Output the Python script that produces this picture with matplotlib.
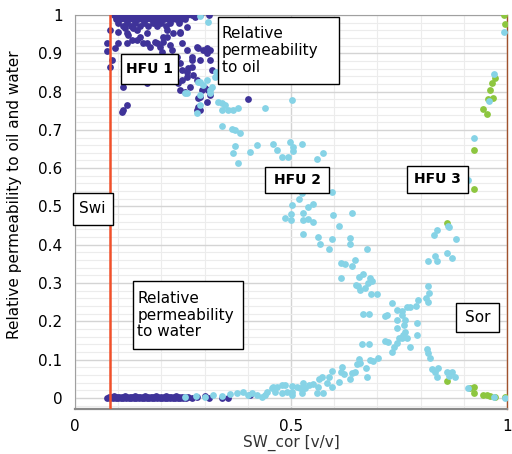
import matplotlib.pyplot as plt
from matplotlib.patches import Rectangle
from matplotlib.ticker import MultipleLocator

# HFU 1 (dark blue) - relative permeability to oil
hfu1_oil_x = [0.09, 0.10, 0.11, 0.12, 0.13, 0.14, 0.15, 0.16, 0.17, 0.18, 0.19, 0.20, 0.21,
              0.22, 0.23, 0.24, 0.25, 0.26, 0.27, 0.29, 0.31,
              0.095, 0.105, 0.115, 0.125, 0.135, 0.145, 0.155, 0.165, 0.175, 0.185, 0.195,
              0.205, 0.215, 0.225, 0.235, 0.245, 0.255,
              0.10, 0.12, 0.14, 0.16, 0.18, 0.20, 0.22, 0.24,
              0.11, 0.13, 0.15, 0.17, 0.19, 0.21,
              0.081, 0.074, 0.074, 0.086, 0.081, 0.116, 0.123, 0.120, 0.132, 0.144, 0.150,
              0.157, 0.167, 0.174, 0.185, 0.197, 0.192, 0.213, 0.204, 0.225, 0.236, 0.243,
              0.248, 0.259, 0.262, 0.271, 0.282, 0.289, 0.296, 0.306, 0.259, 0.243, 0.278,
              0.238, 0.243, 0.266, 0.289, 0.285, 0.289, 0.111, 0.167, 0.111, 0.120, 0.109,
              0.192, 0.181, 0.400, 0.282, 0.306, 0.3125, 0.294, 0.285,
              0.10, 0.120, 0.134, 0.144, 0.10, 0.093, 0.167, 0.190, 0.204, 0.220, 0.201,
              0.213, 0.227, 0.243, 0.248, 0.259, 0.271, 0.285, 0.306, 0.3125, 0.271, 0.273,
              0.259, 0.248, 0.282, 0.3125, 0.317, 0.301, 0.308, 0.255]
hfu1_oil_y = [1.0, 1.0, 1.0, 1.0, 1.0, 1.0, 1.0, 1.0, 1.0, 1.0, 1.0, 1.0, 1.0,
              1.0, 1.0, 1.0, 1.0, 1.0, 1.0, 1.0, 1.0,
              0.99, 0.99, 0.99, 0.99, 0.99, 0.99, 0.99, 0.99, 0.99, 0.99, 0.99,
              0.99, 0.99, 0.99, 0.99, 0.99, 0.99,
              0.98, 0.98, 0.98, 0.98, 0.98, 0.98, 0.98, 0.98,
              0.97, 0.97, 0.97, 0.97, 0.97, 0.97,
              0.961, 0.927, 0.906, 0.883, 0.865, 0.966, 0.948, 0.927, 0.935, 0.961, 0.943,
              0.927, 0.953, 0.916, 0.930, 0.916, 0.979, 0.961, 0.943, 0.909, 0.890, 0.875,
              0.856, 0.838, 0.862, 0.883, 0.916, 0.883, 0.909, 0.901, 0.969, 0.953, 0.995,
              0.822, 0.804, 0.812, 0.786, 0.760, 0.752, 0.812, 0.822, 0.752, 0.765, 0.747,
              0.838, 0.830, 0.781, 0.752, 0.773, 0.791, 0.804, 0.783,
              0.956, 0.953, 0.966, 0.935, 0.927, 0.914, 0.927, 0.927, 0.930, 0.922, 0.903,
              0.943, 0.953, 0.956, 0.927, 0.909, 0.890, 0.914, 0.914, 0.909, 0.864, 0.843,
              0.851, 0.830, 0.830, 0.883, 0.856, 0.809, 0.804, 0.799]

# HFU 1 - relative permeability to water (dense strip near zero)
hfu1_wat_x = [0.075, 0.078, 0.082, 0.085, 0.088, 0.091, 0.094, 0.097, 0.10, 0.103, 0.106,
              0.109, 0.112, 0.115, 0.118, 0.121, 0.124, 0.127, 0.13, 0.133, 0.136, 0.139,
              0.142, 0.145, 0.148, 0.151, 0.154, 0.157, 0.16, 0.163, 0.166, 0.169, 0.172,
              0.175, 0.178, 0.181, 0.184, 0.187, 0.19, 0.193, 0.196, 0.199, 0.202, 0.205,
              0.208, 0.211, 0.214, 0.217, 0.22, 0.223, 0.226, 0.229, 0.232, 0.235, 0.238,
              0.241, 0.244, 0.247, 0.25, 0.254, 0.258, 0.262, 0.27, 0.282,
              0.30, 0.31, 0.34, 0.355, 0.405]
hfu1_wat_y = [0.0, 0.003, 0.0, 0.002, 0.0, 0.004, 0.0, 0.002, 0.0, 0.003, 0.0,
              0.002, 0.0, 0.004, 0.0, 0.002, 0.0, 0.003, 0.0, 0.002, 0.0, 0.004,
              0.0, 0.002, 0.0, 0.003, 0.0, 0.002, 0.0, 0.004, 0.0, 0.002, 0.0,
              0.003, 0.0, 0.002, 0.0, 0.004, 0.0, 0.002, 0.0, 0.003, 0.0, 0.002,
              0.0, 0.004, 0.0, 0.002, 0.0, 0.003, 0.0, 0.002, 0.0, 0.004, 0.0,
              0.002, 0.0, 0.003, 0.0, 0.002, 0.0, 0.003, 0.0, 0.002,
              0.005, 0.0, 0.0, 0.0, 0.008]

# HFU 2 (light blue)
hfu2_x = [0.308, 0.289, 0.255, 0.289, 0.296, 0.306, 0.3125, 0.324, 0.326, 0.285, 0.317,
          0.3125, 0.289, 0.259, 0.289, 0.282, 0.331, 0.340, 0.347, 0.340, 0.366, 0.377,
          0.354, 0.440, 0.502, 0.340, 0.363, 0.370, 0.382, 0.370, 0.366, 0.405, 0.421,
          0.458, 0.468, 0.479, 0.493, 0.498, 0.505, 0.505, 0.525, 0.560, 0.574, 0.377,
          0.595, 0.525, 0.519, 0.502, 0.551, 0.539, 0.486, 0.500, 0.500, 0.528, 0.528,
          0.539, 0.551, 0.597, 0.641, 0.611, 0.528, 0.5625, 0.595, 0.637, 0.637, 0.567,
          0.588, 0.676, 0.616, 0.625, 0.648, 0.641, 0.667, 0.657, 0.616, 0.683, 0.655,
          0.650, 0.660, 0.671, 0.678, 0.6875, 0.685, 0.699, 0.667, 0.681, 0.734, 0.718,
          0.722, 0.745, 0.757, 0.757, 0.745, 0.764, 0.762, 0.745, 0.764, 0.759, 0.757,
          0.750, 0.745, 0.738, 0.734, 0.718, 0.725, 0.769, 0.775, 0.792, 0.792, 0.769,
          0.775, 0.789, 0.794, 0.8125, 0.817, 0.819, 0.817, 0.817, 0.838, 0.833, 0.861,
          0.873, 0.831, 0.838, 0.863, 0.882, 0.924, 0.910, 0.866, 0.970, 0.958, 0.993,
          0.815, 0.817, 0.822, 0.826, 0.833, 0.840, 0.861, 0.873, 0.880, 0.866, 0.838,
          0.910, 0.970, 0.995,
          0.664, 0.681, 0.701, 0.690, 0.683, 0.657, 0.660, 0.653, 0.674, 0.676, 0.648,
          0.641, 0.637, 0.618, 0.616, 0.623, 0.611, 0.595, 0.588, 0.583, 0.574, 0.595,
          0.565, 0.5625, 0.551, 0.542, 0.528, 0.532, 0.521, 0.525, 0.514, 0.502, 0.502,
          0.502, 0.491, 0.486, 0.479, 0.468, 0.463, 0.456, 0.444, 0.440, 0.433, 0.421,
          0.560, 0.572,
          0.255, 0.28, 0.30, 0.32, 0.34, 0.36, 0.375, 0.39, 0.40, 0.41, 0.458, 0.48]
hfu2_y = [0.982, 0.997, 0.796, 0.825, 0.817, 0.830, 0.804, 0.838, 0.851, 0.825, 0.812,
          0.796, 0.791, 0.796, 0.765, 0.744, 0.773, 0.770, 0.765, 0.752, 0.752, 0.757,
          0.752, 0.757, 0.778, 0.710, 0.702, 0.700, 0.692, 0.658, 0.640, 0.642, 0.661,
          0.663, 0.648, 0.629, 0.629, 0.668, 0.655, 0.645, 0.663, 0.624, 0.640, 0.614,
          0.538, 0.535, 0.520, 0.504, 0.507, 0.499, 0.470, 0.480, 0.465, 0.483, 0.465,
          0.467, 0.460, 0.478, 0.483, 0.449, 0.428, 0.420, 0.415, 0.418, 0.402, 0.402,
          0.389, 0.389, 0.352, 0.350, 0.360, 0.345, 0.324, 0.316, 0.313, 0.313, 0.292,
          0.295, 0.282, 0.287, 0.300, 0.305, 0.272, 0.272, 0.219, 0.219, 0.248, 0.214,
          0.217, 0.230, 0.227, 0.217, 0.204, 0.204, 0.191, 0.183, 0.172, 0.164, 0.157,
          0.157, 0.144, 0.133, 0.120, 0.149, 0.146, 0.157, 0.133, 0.164, 0.196, 0.238,
          0.238, 0.240, 0.256, 0.261, 0.251, 0.274, 0.292, 0.358, 0.358, 0.371, 0.379,
          0.366, 0.426, 0.439, 0.449, 0.415, 0.679, 0.569, 0.446, 0.846, 0.775, 0.956,
          0.128, 0.117, 0.104, 0.076, 0.068, 0.078, 0.068, 0.068, 0.055, 0.057, 0.055,
          0.026, 0.003, 0.0,
          0.141, 0.141, 0.104, 0.097, 0.099, 0.102, 0.091, 0.089, 0.078, 0.055, 0.068,
          0.065, 0.050, 0.081, 0.068, 0.063, 0.042, 0.070, 0.055, 0.039, 0.013, 0.029,
          0.050, 0.029, 0.037, 0.034, 0.039, 0.026, 0.026, 0.013, 0.029, 0.031, 0.016,
          0.008, 0.016, 0.034, 0.013, 0.029, 0.016, 0.026, 0.016, 0.008, 0.003, 0.008,
          0.013, 0.055,
          0.003, 0.005, 0.002, 0.008, 0.005, 0.010, 0.013, 0.015, 0.008, 0.012, 0.029, 0.034]

# HFU 3 (green)
hfu3_x = [0.995, 0.993, 0.972, 0.965, 0.961, 0.956, 0.968, 0.944, 0.954, 0.924, 0.924,
          0.861, 0.861, 0.914, 0.924, 0.924, 0.944, 0.954, 0.961, 0.972, 0.995]
hfu3_y = [0.976, 1.0, 0.836, 0.822, 0.804, 0.781, 0.783, 0.755, 0.742, 0.648, 0.546,
          0.457, 0.044, 0.026, 0.029, 0.013, 0.008, 0.008, 0.005, 0.003, 0.003]

swi = 0.08

fig = plt.figure(figsize=(5.12, 4.54), dpi=100)
ax = fig.add_axes([0.1465, 0.0991, 0.8435, 0.8679])

ax.scatter(hfu1_oil_x, hfu1_oil_y, s=24, color='#3f3399', lw=0, zorder=3)
ax.scatter(hfu1_wat_x, hfu1_wat_y, s=24, color='#3f3399', lw=0, zorder=3)
ax.scatter(hfu3_x, hfu3_y, s=24, color='#8dc63f', lw=0, zorder=3)
ax.scatter(hfu2_x, hfu2_y, s=24, color='#86d3e6', lw=0, zorder=3)

ax.axvline(swi, color='#f0502a', lw=1.8, zorder=4)

ax.set_xlim(0, 1)
ax.set_ylim(-0.029, 1.0)
ax.xaxis.set_major_locator(MultipleLocator(0.5))
ax.xaxis.set_minor_locator(MultipleLocator(0.1))
ax.yaxis.set_major_locator(MultipleLocator(0.1))
ax.yaxis.set_minor_locator(MultipleLocator(0.02))
ax.set_xticks([0, 0.5, 1])
ax.set_xticklabels(['0', '0.5', '1'])
ax.set_yticks([i / 10 for i in range(11)])
ax.set_yticklabels(['0', '0.1', '0.2', '0.3', '0.4', '0.5', '0.6', '0.7', '0.8', '0.9', '1'])
ax.grid(which='major', color='#d4d4d4', lw=1.0, zorder=0)
ax.grid(which='minor', color='#ececec', lw=0.8, zorder=0)
ax.set_axisbelow(True)
ax.tick_params(which='both', length=0, labelsize=11, colors='black')
ax.tick_params(axis='y', pad=9)
ax.tick_params(axis='x', pad=7)

for side in ['left', 'top']:
    ax.spines[side].set_color('#a0a0a0')
    ax.spines[side].set_linewidth(0.8)
ax.spines['bottom'].set_color('#8a8a8a')
ax.spines['bottom'].set_linewidth(1.6)
ax.spines['right'].set_color('#a0522d')
ax.spines['right'].set_linewidth(1.0)

ax.set_ylabel('Relative permeability to oil and water', fontsize=11)
ax.yaxis.set_label_coords(-0.123, 0.543)
ax.set_xlabel('SW_cor [v/v]', fontsize=11, color='#333333')
ax.xaxis.set_label_coords(0.5, -0.066)


def label_box(x0, y0, x1, y1, text, tx=None, bold=False, size=11):
    ax.add_patch(Rectangle((x0, y1), x1 - x0, y0 - y1, facecolor='white',
                           edgecolor='black', lw=1.0, zorder=6, clip_on=False))
    if tx is None:
        ax.text((x0 + x1) / 2, (y0 + y1) / 2, text, ha='center', va='center',
                fontsize=size, fontweight='bold' if bold else 'normal', zorder=7)
    else:
        ax.text(tx, (y0 + y1) / 2, text, ha='left', va='center', fontsize=size,
                linespacing=1.15, zorder=7)


label_box(-0.005, 0.535, 0.088, 0.452, 'Swi', tx=0.009)
label_box(0.106, 0.898, 0.238, 0.820, 'HFU 1', bold=True, size=10)
label_box(0.331, 0.995, 0.611, 0.820, 'Relative\npermeability\nto oil', tx=0.340)
label_box(0.441, 0.603, 0.588, 0.535, 'HFU 2', bold=True, size=10)
label_box(0.769, 0.606, 0.910, 0.535, 'HFU 3', bold=True, size=10)
label_box(0.134, 0.305, 0.388, 0.127, 'Relative\npermeability\nto water', tx=0.144)
label_box(0.883, 0.247, 0.982, 0.173, 'Sor')

fig.savefig('out.png', dpi=100)
